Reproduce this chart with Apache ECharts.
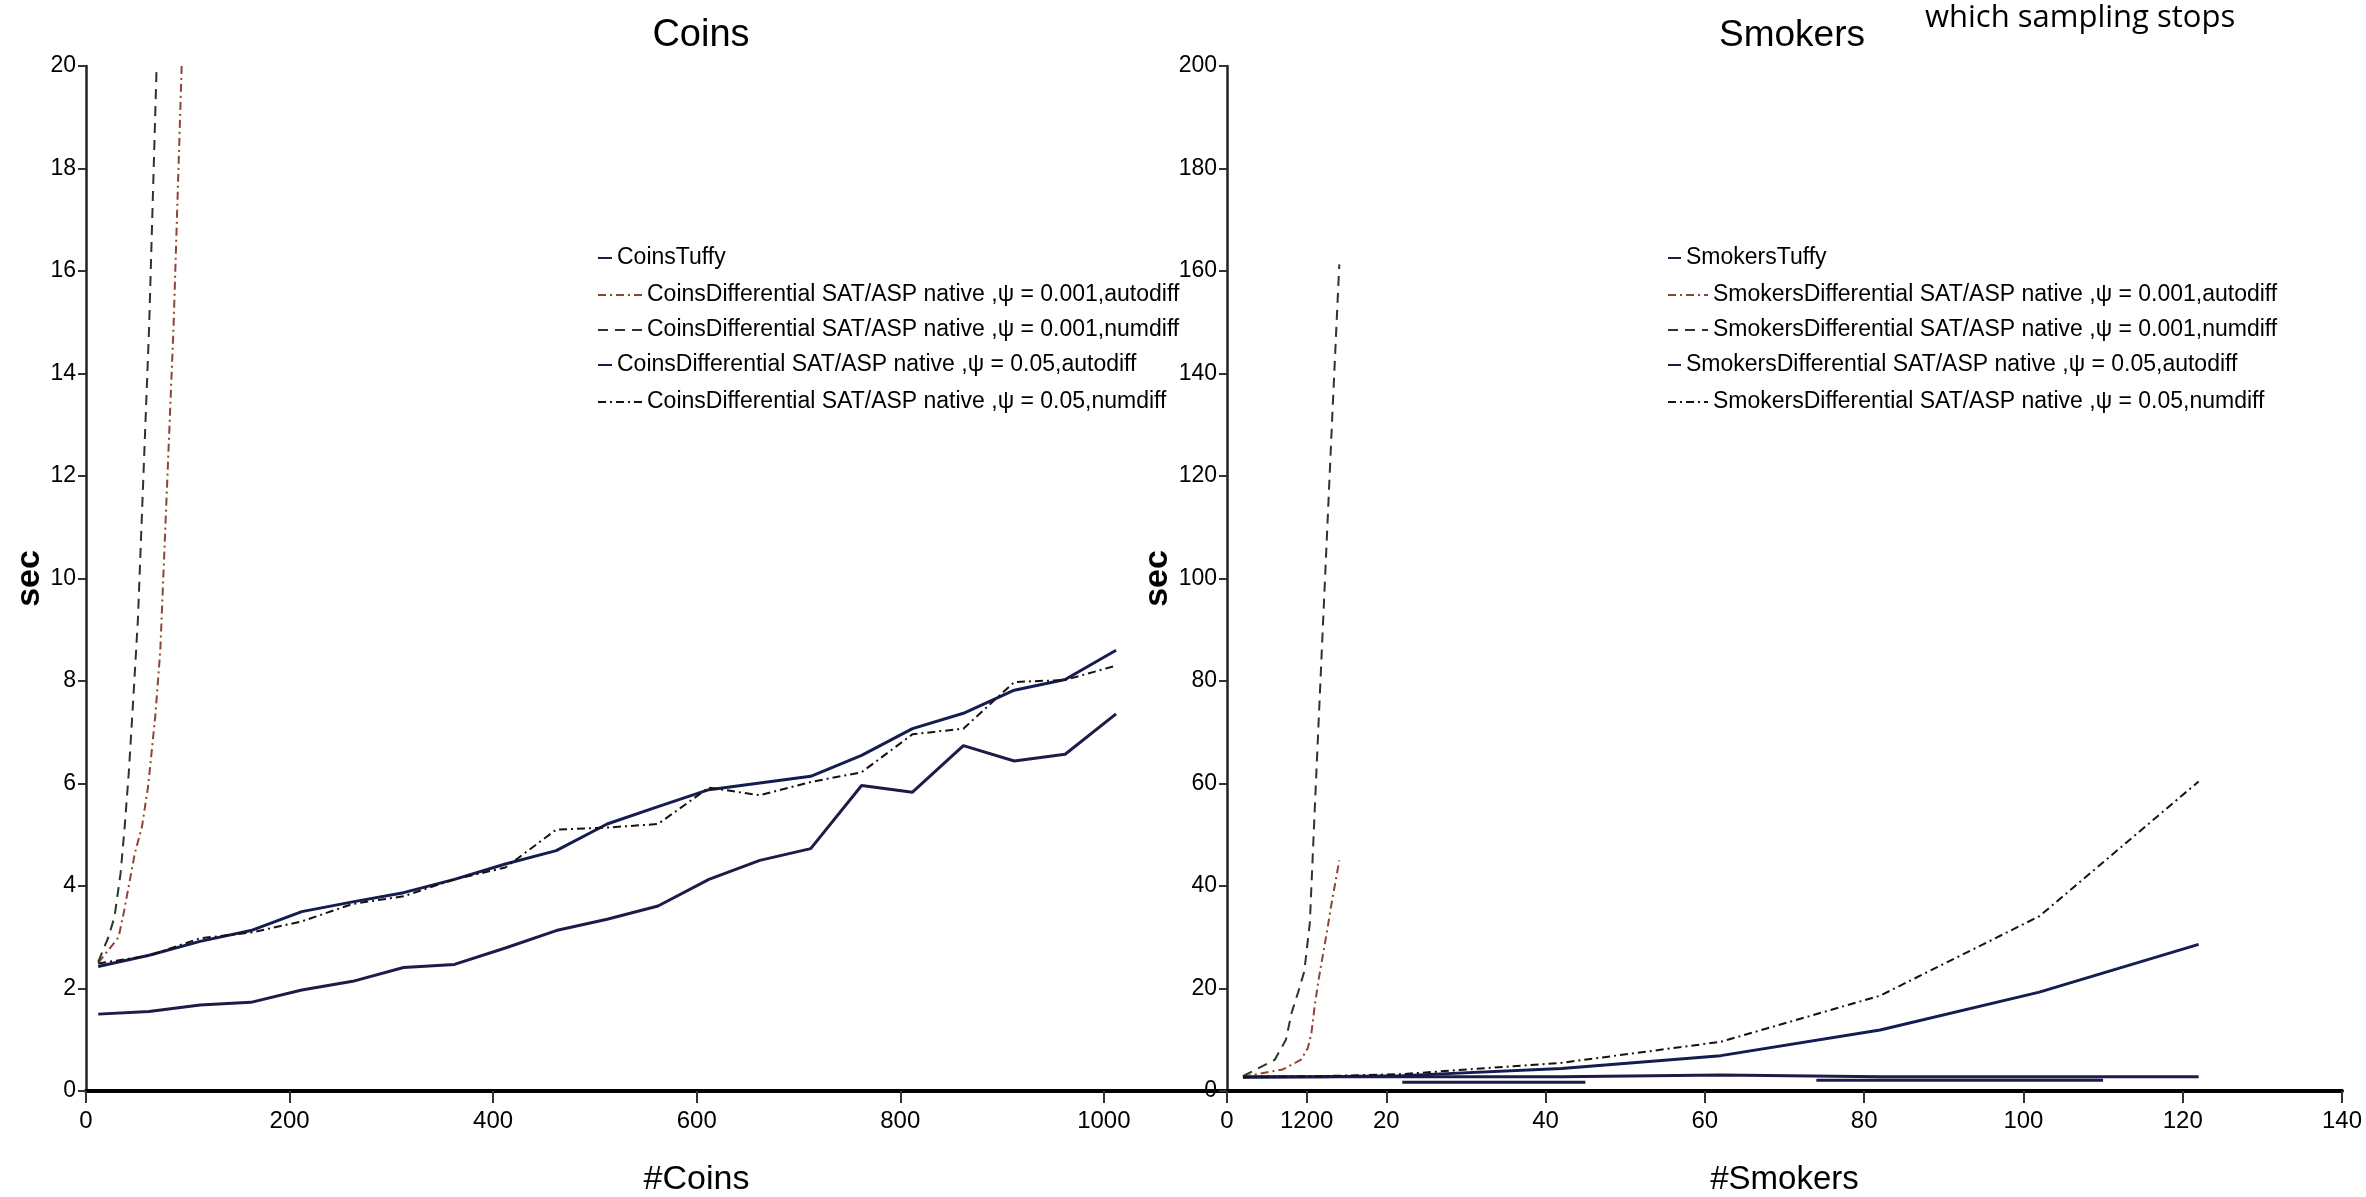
<!DOCTYPE html>
<html lang="en">
<head>
    <meta charset="UTF-8">
    <title>Coins / Smokers</title>
    <script src="https://cdn.jsdelivr.net/npm/echarts@6.0.0/dist/echarts.min.js"></script>
    <style>
        html, body { margin: 0; padding: 0; background: #fff; }
    </style>
</head>
<body>
    <div id="main" style="width: 2366px;height:1197px;"></div>
    <script type="text/javascript">
        // ---- data ----
        // Coins chart
        var coinsX = [12, 62, 112, 162, 212, 262, 312, 362, 412, 462, 512, 562, 612, 662, 712, 762, 812, 862, 912, 962, 1012];
        var coinsTuffy = [1.50, 1.55, 1.68, 1.73, 1.97, 2.14, 2.41, 2.47, 2.79, 3.13, 3.35, 3.61, 4.13, 4.50, 4.73, 5.96, 5.83, 6.74, 6.44, 6.57, 7.36];
        var coinsAuto005 = [2.43, 2.65, 2.92, 3.13, 3.50, 3.69, 3.87, 4.13, 4.43, 4.69, 5.21, 5.55, 5.88, 6.01, 6.14, 6.55, 7.07, 7.37, 7.82, 8.03, 8.60];
        var coinsNum005 = [2.49, 2.64, 2.98, 3.09, 3.31, 3.65, 3.80, 4.13, 4.36, 5.10, 5.14, 5.21, 5.92, 5.77, 6.03, 6.22, 6.96, 7.07, 7.98, 8.02, 8.30];
        // the two runs that blow up early
        var coinsAuto001X = [12, 32, 37, 42, 48, 55, 61, 68, 73, 86, 94];
        var coinsAuto001 = [2.50, 3.00, 3.47, 4.00, 4.64, 5.16, 5.94, 7.30, 8.60, 14.9, 20.0];
        var coinsNum001X = [12, 22, 28, 34, 38, 42, 46, 51, 62, 69.4];
        var coinsNum001 = [2.52, 3.00, 3.40, 4.25, 5.16, 6.20, 7.50, 9.20, 14.9, 20.0];

        // Smokers chart
        var smokersX = [2, 12, 22, 42, 62, 82, 102, 122];
        var smokersAuto005 = [2.7, 2.8, 3.0, 4.4, 6.9, 11.9, 19.3, 28.6];
        var smokersNum005 = [2.7, 2.9, 3.3, 5.5, 9.6, 18.6, 34.1, 60.4];
        // Tuffy: flat line plus two short lower pieces ('-' breaks the line)
        var smokersTuffyX = [2, 12, 22, 42, 62, 82, 102, 122, '-', 22, 45, '-', 74, 110];
        var smokersTuffy = [2.8, 2.8, 2.8, 2.8, 3.1, 2.8, 2.8, 2.8, '-', 1.7, 1.7, '-', 2.1, 2.1];
        var smokersAuto001X = [2, 7, 9.3, 10.15, 10.6, 11, 11.5, 12, 12.66, 13.06, 14.1];
        var smokersAuto001 = [2.8, 4.2, 6.1, 8.4, 11.3, 16.5, 21.7, 26.2, 32.1, 36.0, 45.0];
        var smokersNum001X = [2, 6, 7.4, 8.1, 8.9, 9.7, 10.4, 11.2, 12.2, 13.2, 14.1];
        var smokersNum001 = [2.9, 6.1, 10.0, 15.2, 19.1, 23.3, 32.8, 61.4, 96.2, 131, 161.3];

        // tick labels
        var coinsXTicks = [0, 200, 400, 600, 800, 1000];
        var smokersXTicks = [0, 10, 20, 40, 60, 80, 100, 120, 140];
        var smokersXLabels = ['0', '1200', '20', '40', '60', '80', '100', '120', '140'];

        var coinsNames = [
            'CoinsTuffy',
            'CoinsDifferential SAT/ASP native ,\u03c8 = 0.001,autodiff',
            'CoinsDifferential SAT/ASP native ,\u03c8 = 0.001,numdiff',
            'CoinsDifferential SAT/ASP native ,\u03c8 = 0.05,autodiff',
            'CoinsDifferential SAT/ASP native ,\u03c8 = 0.05,numdiff'
        ];
        var smokersNames = [
            'SmokersTuffy',
            'SmokersDifferential SAT/ASP native ,\u03c8 = 0.001,autodiff',
            'SmokersDifferential SAT/ASP native ,\u03c8 = 0.001,numdiff',
            'SmokersDifferential SAT/ASP native ,\u03c8 = 0.05,autodiff',
            'SmokersDifferential SAT/ASP native ,\u03c8 = 0.05,numdiff'
        ];

        // ---- styles ----
        var FONT = "'Liberation Sans', Arial, sans-serif";
        var DASH = [10, 7];
        var DASHDOT = [8, 4, 2, 4];
        var colors = ['#1c1c48', '#8e4438', '#243a22', '#151c50', '#1a1010'];
        var types = ['solid', DASHDOT, DASH, 'solid', DASHDOT];
        var widths = [3, 2, 2, 3, 2];

        function pairs(xs, ys) {
            return xs.map(function (x, i) { return [x, ys[i]]; });
        }

        function lineSeries(name, k, data, idx) {
            return {
                name: name,
                type: 'line',
                xAxisIndex: idx,
                yAxisIndex: idx,
                data: data,
                symbol: 'none',
                color: colors[k],
                lineStyle: { color: colors[k], type: types[k], width: widths[k] },
                connectNulls: false,
                clip: true
            };
        }

        // one legend per row so the short solid icons and long dashed icons line up like the picture
        var legendTops = [243, 280, 315, 350, 387];
        function legends(names, left, shortW, longW) {
            return names.map(function (n, k) {
                return {
                    data: [n],
                    left: left,
                    top: legendTops[k],
                    orient: 'vertical',
                    padding: 0,
                    itemWidth: (k === 0 || k === 3) ? shortW : longW,
                    itemHeight: 14,
                    itemStyle: { opacity: 0 },
                    textStyle: { fontFamily: FONT, fontSize: 23, lineHeight: 30, color: '#000' }
                };
            });
        }

        function yAxis(idx, max, interval, gap) {
            return {
                type: 'value',
                gridIndex: idx,
                min: 0,
                max: max,
                interval: interval,
                name: 'sec',
                nameLocation: 'middle',
                nameGap: gap,
                nameTextStyle: { fontFamily: FONT, fontSize: 34, fontWeight: 'bold', color: '#000' },
                axisLine: { show: true, lineStyle: { color: '#222', width: 2.5 } },
                axisTick: { show: true, length: 8, lineStyle: { color: '#333', width: 2 } },
                axisLabel: { margin: 10, fontFamily: FONT, fontSize: 23, color: '#000' },
                splitLine: { show: false }
            };
        }

        var option = {
            backgroundColor: '#fff',
            animation: false,
            title: [
                { text: 'Coins', left: 696, top: 11, textAlign: 'center',
                  textStyle: { fontFamily: FONT, fontSize: 38, fontWeight: 'normal', color: '#000', lineHeight: 40 } },
                { text: 'Smokers', left: 1787, top: 11, textAlign: 'center',
                  textStyle: { fontFamily: FONT, fontSize: 37, fontWeight: 'normal', color: '#000', lineHeight: 40 } },
                { text: 'which sampling stops', left: 1920, top: -2,
                  textStyle: { fontFamily: "'Open Sans'", fontSize: 31, fontWeight: 'normal', color: '#000', lineHeight: 31 } }
            ],
            legend: legends(coinsNames, 597, 14, 44).concat(legends(smokersNames, 1667, 13, 40)),
            grid: [
                { left: 86, top: 66, width: 1141, height: 1025, outerBoundsMode: 'none' },
                { left: 1227, top: 66, width: 1115, height: 1025, outerBoundsMode: 'none' }
            ],
            xAxis: [
                {
                    type: 'value', gridIndex: 0, min: 0, max: 1121,
                    name: '#Coins', nameLocation: 'middle', nameGap: 72,
                    nameTextStyle: { fontFamily: FONT, fontSize: 34, color: '#000', padding: [0, 0, 0, 80] },
                    axisLine: { show: true, onZero: false, lineStyle: { color: '#000', width: 4 } },
                    axisTick: { show: true, length: 12, customValues: coinsXTicks, lineStyle: { color: '#333', width: 2 } },
                    axisLabel: {
                        customValues: coinsXTicks, margin: 18, fontFamily: FONT, fontSize: 24, color: '#000',
                        formatter: function (v) { return String(v); }
                    },
                    splitLine: { show: false }
                },
                {
                    type: 'value', gridIndex: 1, min: 0, max: 140,
                    name: '#Smokers', nameLocation: 'middle', nameGap: 72,
                    nameTextStyle: { fontFamily: FONT, fontSize: 33, color: '#000' },
                    axisLine: { show: true, onZero: false, lineStyle: { color: '#000', width: 4 } },
                    axisTick: { show: true, length: 12, customValues: smokersXTicks, lineStyle: { color: '#333', width: 2 } },
                    axisLabel: {
                        customValues: smokersXTicks, margin: 18, fontFamily: FONT, fontSize: 24, color: '#000',
                        formatter: function (v) {
                            var i = smokersXTicks.indexOf(v);
                            return i >= 0 ? smokersXLabels[i] : '';
                        }
                    },
                    splitLine: { show: false }
                }
            ],
            yAxis: [yAxis(0, 20, 2, 39), yAxis(1, 200, 20, 50)],
            series: [
                lineSeries(coinsNames[0], 0, pairs(coinsX, coinsTuffy), 0),
                lineSeries(coinsNames[1], 1, pairs(coinsAuto001X, coinsAuto001), 0),
                lineSeries(coinsNames[2], 2, pairs(coinsNum001X, coinsNum001), 0),
                lineSeries(coinsNames[3], 3, pairs(coinsX, coinsAuto005), 0),
                lineSeries(coinsNames[4], 4, pairs(coinsX, coinsNum005), 0),
                lineSeries(smokersNames[0], 0, pairs(smokersTuffyX, smokersTuffy), 1),
                lineSeries(smokersNames[1], 1, pairs(smokersAuto001X, smokersAuto001), 1),
                lineSeries(smokersNames[2], 2, pairs(smokersNum001X, smokersNum001), 1),
                lineSeries(smokersNames[3], 3, pairs(smokersX, smokersAuto005), 1),
                lineSeries(smokersNames[4], 4, pairs(smokersX, smokersNum005), 1)
            ]
        };

        var myChart = echarts.init(document.getElementById('main'));
        myChart.setOption(option);
    </script>
</body>
</html>
